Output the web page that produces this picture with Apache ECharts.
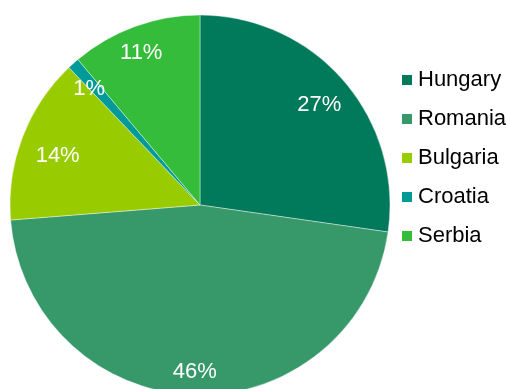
<!DOCTYPE html>
<html>
<head>
<meta charset="utf-8">
<script src="https://cdn.jsdelivr.net/npm/echarts@6/dist/echarts.min.js"></script>
<style>
  html, body { margin: 0; padding: 0; background: #fff; }
  #chart { width: 508px; height: 389px; }
</style>
</head>
<body>
<div id="chart"></div>
<script>
// Share of the total by country (percent)
const countries = ['Hungary', 'Romania', 'Bulgaria', 'Croatia', 'Serbia'];
const shares = [27, 46, 14, 1, 11];
const colors = ['#007A5A', '#37996A', '#99CC00', '#009A99', '#35BC3B'];

const chart = echarts.init(document.getElementById('chart'), null, { renderer: 'canvas' });

const sliceData = countries.map((name, i) => ({
  name,
  value: shares[i],
  itemStyle: { color: colors[i] }
}));

// Small nudges for labels that sit a little off the common ring
const labelNudge = {
  Hungary: [-4, 7],
  Romania: [0, 4],
  Bulgaria: [10, 9],
  Croatia: [-2, 5],
  Serbia: [-3, 1]
};

// Labels ride on a transparent ring near the rim so they sit close to the edge
const labelData = countries.map((name, i) => ({
  name,
  value: shares[i],
  itemStyle: { color: 'rgba(0,0,0,0)' },
  label: { offset: labelNudge[name] || [0, 0] }
}));

const center = [200, 205];
const radius = 190;

chart.setOption({
  animation: false,
  color: colors,
  legend: {
    orient: 'vertical',
    left: 395,
    top: 64,
    icon: 'rect',
    itemWidth: 12,
    itemHeight: 12,
    itemGap: 17,
    selectedMode: false,
    data: countries,
    textStyle: {
      fontFamily: 'Liberation Sans, Arial, sans-serif',
      fontSize: 22,
      lineHeight: 22,
      color: '#000'
    }
  },
  series: [
    {
      type: 'pie',
      center: center,
      radius: [0, radius],
      startAngle: 90,
      clockwise: true,
      silent: true,
      data: sliceData,
      label: { show: false },
      labelLine: { show: false },
      itemStyle: { borderColor: '#ffffff', borderWidth: 0.4 }
    },
    {
      type: 'pie',
      center: center,
      radius: [radius * 0.685, radius],
      startAngle: 90,
      clockwise: true,
      silent: true,
      legendHoverLink: false,
      data: labelData,
      labelLine: { show: false },
      label: {
        show: true,
        position: 'inside',
        formatter: p => p.value + '%',
        color: '#ffffff',
        fontFamily: 'Liberation Sans, Arial, sans-serif',
        fontSize: 22
      }
    }
  ]
});
</script>
</body>
</html>
